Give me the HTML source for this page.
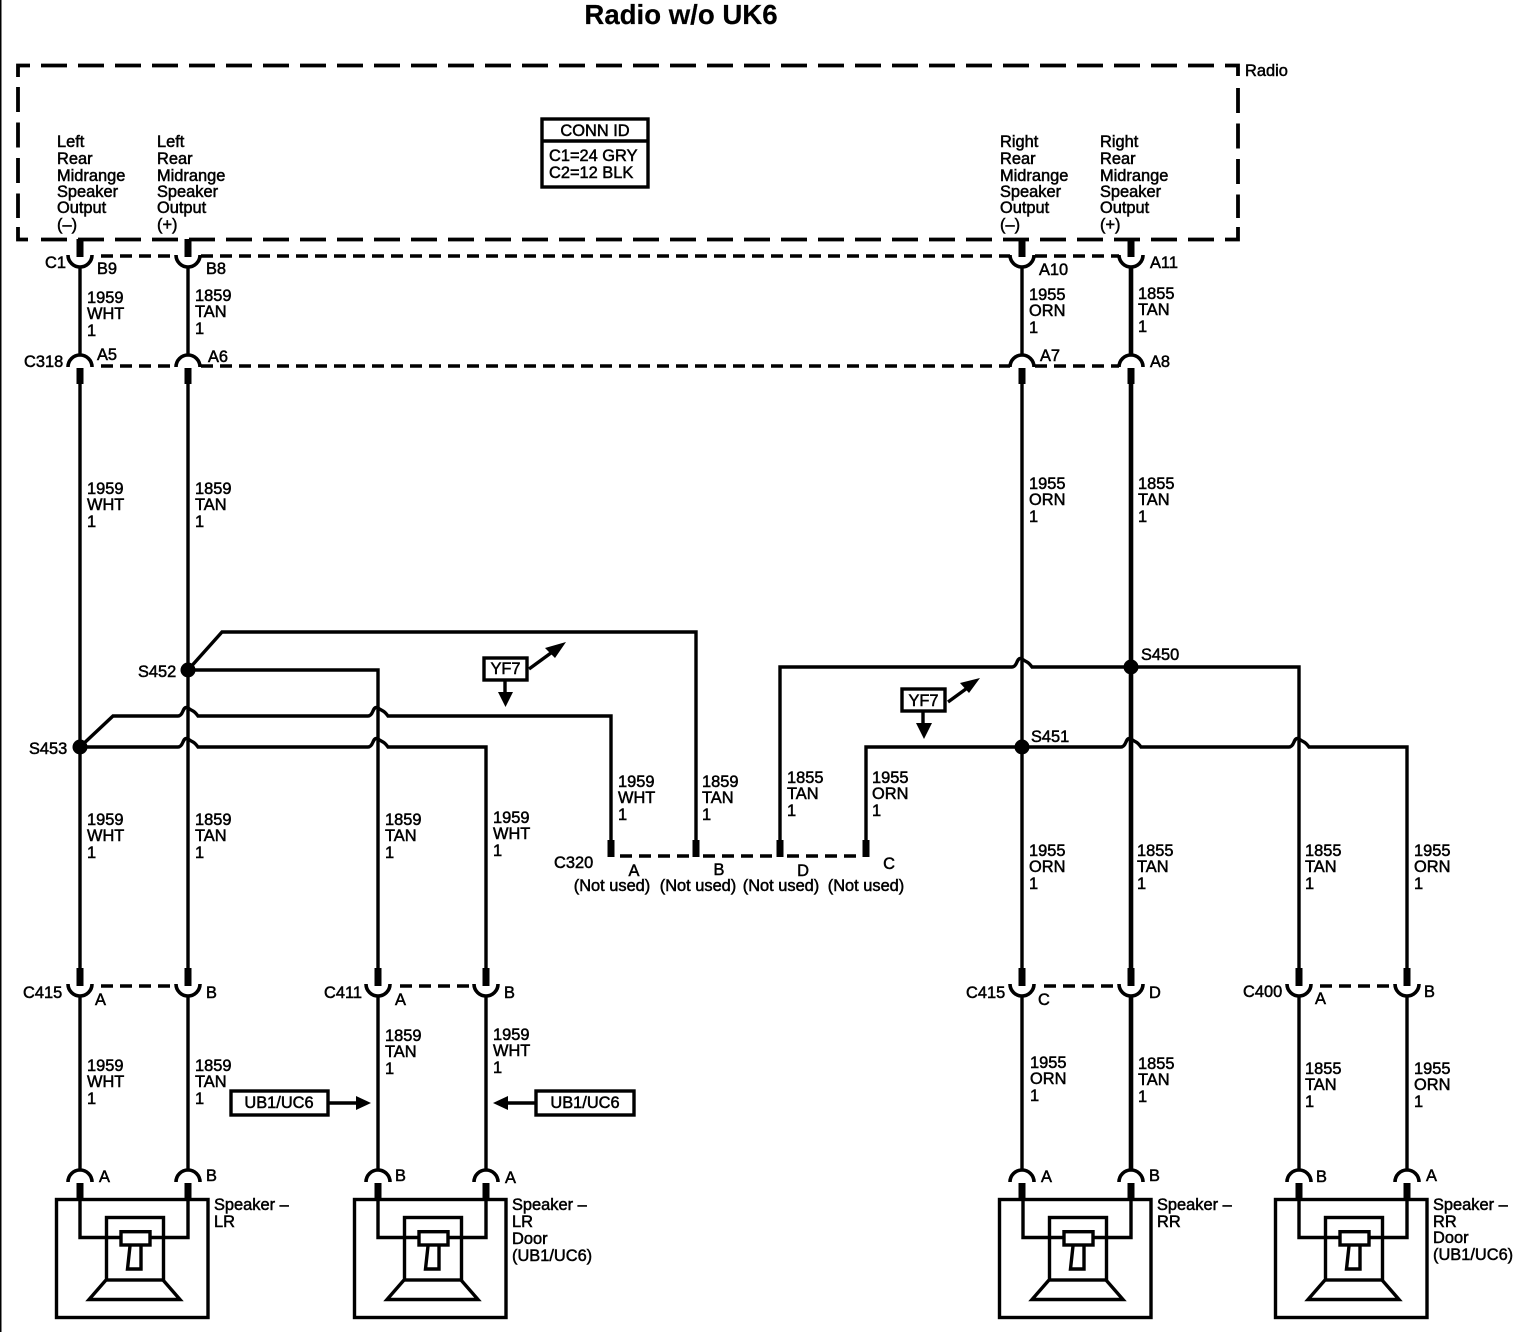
<!DOCTYPE html>
<html><head><meta charset="utf-8"><style>
html,body{margin:0;padding:0;background:#fff}
svg{display:block}
text{font-family:"Liberation Sans",sans-serif;font-size:16.4px;fill:#000;stroke:#000;stroke-width:.5}
.w{fill:none;stroke:#000;stroke-width:3.4}
.t{fill:none;stroke:#000;stroke-width:4.6}
.d{fill:none;stroke:#000;stroke-width:3.4;stroke-dasharray:12 7}
.s{fill:none;stroke:#000;stroke-width:3.6}
.b{fill:none;stroke:#000;stroke-width:3.8}
</style></head><body>
<svg width="1524" height="1344" viewBox="0 0 1524 1344" xmlns="http://www.w3.org/2000/svg">
<defs>
<g id="u"><path class="s" d="M-12 0A12 12 0 0 0 12 0"/><rect x="-3.500" y="-16" width="7" height="18"/></g>
<g id="a"><path class="s" d="M-12 12A12 12 0 0 1 12 12"/><rect x="-3.500" y="13" width="7" height="16"/></g>
<g id="spk">
<rect class="w" x="56.500" y="1199.500" width="151.500" height="118"/>
<rect class="w" x="106.500" y="1217.500" width="57" height="62.500"/>
<path class="w" d="M80 1199V1237.500H188V1199"/>
<rect x="121" y="1231.700" width="29" height="13.300" fill="#fff" stroke="#000" stroke-width="3.400"/>
<path class="w" d="M130 1246L127.500 1269H141V1246"/>
<path class="w" d="M106 1280L89 1299.500H180L163 1280"/>
</g>
</defs>
<rect width="1524" height="1344" fill="#fff"/>
<rect x="0" y="0" width="1.500" height="1332" fill="#000"/>

<text x="681" y="24" text-anchor="middle" style="font-size:27.6px;font-weight:700;stroke-width:.2">Radio w/o UK6</text>

<!-- radio box -->
<path class="b" d="M18 77V65.500H30M1225 65.500H1238V76M18 227V239.500H28M1225 239.500H1238V227"/>
<path class="b" d="M41 65.500H1214" stroke-dasharray="26 11"/>
<path class="b" d="M41 239.500H1214" stroke-dasharray="26 11"/>
<path class="b" d="M18 87V218" stroke-dasharray="25 10.500"/>
<path class="b" d="M1238 88V218" stroke-dasharray="25 10.500"/>
<text x="1245" y="76">Radio</text>
<rect x="542" y="119" width="106" height="68" fill="none" stroke="#000" stroke-width="3.400"/>
<path d="M542 141H648" class="s"/>
<text x="595" y="136" text-anchor="middle">CONN ID</text>
<text x="549" y="161">C1=24 GRY</text>
<text x="549" y="178">C2=12 BLK</text>

<!-- radio pin labels -->
<text x="57" y="147">Left</text><text x="57" y="164">Rear</text><text x="57" y="181">Midrange</text><text x="57" y="197">Speaker</text><text x="57" y="213">Output</text><text x="57" y="230">(–)</text>
<text x="157" y="147">Left</text><text x="157" y="164">Rear</text><text x="157" y="181">Midrange</text><text x="157" y="197">Speaker</text><text x="157" y="213">Output</text><text x="157" y="230">(+)</text>
<text x="1000" y="147">Right</text><text x="1000" y="164">Rear</text><text x="1000" y="181">Midrange</text><text x="1000" y="197">Speaker</text><text x="1000" y="213">Output</text><text x="1000" y="230">(–)</text>
<text x="1100" y="147">Right</text><text x="1100" y="164">Rear</text><text x="1100" y="181">Midrange</text><text x="1100" y="197">Speaker</text><text x="1100" y="213">Output</text><text x="1100" y="230">(+)</text>

<!-- dashed connector bars -->
<path class="d" d="M101 256H176M201 256H1010M1035 256H1119"/>
<path class="d" d="M101 366H176M201 366H1010M1035 366H1119"/>
<path class="d" d="M620 856H690M703 856H775M787 856H860"/>
<path class="d" d="M101 986H176"/>
<path class="d" d="M400 986H474"/>
<path class="d" d="M1044 986H1119"/>
<path class="d" d="M1320 986H1395"/>

<!-- main verticals -->
<path class="w" d="M80 266V356M80 380V970M80 996V1171"/>
<path class="w" d="M188 266V356M188 380V970M188 996V1171"/>
<path class="w" d="M1022 266V356M1022 380V970M1022 996V1171"/>
<path class="t" d="M1131 266V356M1131 380V970M1131 996V1171"/>

<!-- branches -->
<path class="w" d="M188 670L222 632H696V845"/>
<path class="w" d="M188 670H378V972" stroke-width="4"/>
<path class="w" d="M80 747L113 716H178Q181 716 183 711T188 708T193 711T198 716H368Q371 716 373 711T378 708T383 711T388 716H611V845"/>
<path class="w" d="M80 747H178Q181 747 183 742T188 739T193 742T198 747H368Q371 747 373 742T378 739T383 742T388 747H486V972"/>
<path class="w" d="M780 845V667H1012Q1015 667 1017 662T1022 659T1027 662T1032 667H1299V972"/>
<path class="w" d="M866 845V747H1121Q1124 747 1126 742T1131 739T1136 742T1141 747H1289Q1292 747 1294 742T1299 739T1304 742T1309 747H1407V972"/>
<path class="w" d="M378 996V1171M486 996V1171M1299 996V1171M1407 996V1171"/>

<circle cx="188" cy="670" r="7.500"/><circle cx="80" cy="747" r="7.500"/><circle cx="1131" cy="667" r="7.500"/><circle cx="1022" cy="747" r="7.500"/>

<!-- C1 -->
<use href="#u" x="80" y="255"/><use href="#u" x="188" y="255"/><use href="#u" x="1022" y="255"/><use href="#u" x="1131" y="255"/>
<!-- C318 -->
<use href="#a" x="80" y="355"/><use href="#a" x="188" y="355"/><use href="#a" x="1022" y="355"/><use href="#a" x="1131" y="355"/>
<!-- C320 stubs -->
<rect x="607.500" y="840" width="7" height="17"/><rect x="692.500" y="840" width="7" height="17"/><rect x="776.500" y="840" width="7" height="17"/><rect x="862.500" y="840" width="7" height="17"/>
<!-- lower connectors -->
<use href="#u" x="80" y="984"/><use href="#u" x="188" y="984"/><use href="#u" x="378" y="984"/><use href="#u" x="486" y="984"/>
<use href="#u" x="1022" y="984"/><use href="#u" x="1131" y="984"/><use href="#u" x="1299" y="984"/><use href="#u" x="1407" y="984"/>
<!-- speaker connectors -->
<use href="#a" x="80" y="1170"/><use href="#a" x="188" y="1170"/><use href="#a" x="378" y="1170"/><use href="#a" x="486" y="1170"/>
<use href="#a" x="1022" y="1170"/><use href="#a" x="1131" y="1170"/><use href="#a" x="1299" y="1170"/><use href="#a" x="1407" y="1170"/>

<!-- speakers -->
<use href="#spk"/>
<use href="#spk" x="298"/>
<use href="#spk" x="943"/>
<use href="#spk" x="1219"/>

<!-- YF7 -->
<rect x="484" y="658" width="43" height="22" fill="#fff" stroke="#000" stroke-width="3.400"/>
<text x="505.500" y="674" text-anchor="middle">YF7</text>
<path class="w" d="M505 680V696"/><path d="M498 692H513L505.500 707Z"/>
<path class="w" d="M529 669L555 650"/><path d="M566 642L545 648L555 658Z"/>
<rect x="902" y="689" width="43" height="22" fill="#fff" stroke="#000" stroke-width="3.400"/>
<text x="923.500" y="706" text-anchor="middle">YF7</text>
<path class="w" d="M923 711V727"/><path d="M916 723H932L924 739Z"/>
<path class="w" d="M948 702L970 686"/><path d="M980 678L960 683L969 693Z"/>

<!-- UB1/UC6 -->
<rect x="231" y="1091" width="97" height="24" fill="#fff" stroke="#000" stroke-width="3.400"/>
<text x="279" y="1108" text-anchor="middle">UB1/UC6</text>
<path class="w" d="M329 1103H358"/><path d="M356 1096L371 1103L356 1110Z"/>
<rect x="536" y="1091" width="98" height="24" fill="#fff" stroke="#000" stroke-width="3.400"/>
<text x="585" y="1108" text-anchor="middle">UB1/UC6</text>
<path class="w" d="M535 1103H505"/><path d="M508 1096L493 1103L508 1110Z"/>

<!-- connector labels -->
<text x="45" y="268">C1</text><text x="97" y="274">B9</text><text x="206" y="274">B8</text><text x="1039" y="275">A10</text><text x="1150" y="268">A11</text>
<text x="24" y="367">C318</text><text x="97" y="360">A5</text><text x="208" y="362">A6</text><text x="1040" y="361">A7</text><text x="1150" y="367">A8</text>
<text x="138" y="677">S452</text><text x="29" y="754">S453</text><text x="1141" y="660">S450</text><text x="1031" y="742">S451</text>
<text x="554" y="868">C320</text><text x="634" y="876" text-anchor="middle">A</text><text x="719" y="875" text-anchor="middle">B</text><text x="803" y="876" text-anchor="middle">D</text><text x="889" y="869" text-anchor="middle">C</text>
<text x="612" y="891" text-anchor="middle">(Not used)</text><text x="698" y="891" text-anchor="middle">(Not used)</text><text x="781" y="891" text-anchor="middle">(Not used)</text><text x="866" y="891" text-anchor="middle">(Not used)</text>
<text x="23" y="998">C415</text><text x="95" y="1005">A</text><text x="206" y="998">B</text>
<text x="324" y="998">C411</text><text x="395" y="1005">A</text><text x="504" y="998">B</text>
<text x="966" y="998">C415</text><text x="1038" y="1005">C</text><text x="1149" y="998">D</text>
<text x="1243" y="997">C400</text><text x="1315" y="1004">A</text><text x="1424" y="997">B</text>
<text x="99" y="1182">A</text><text x="206" y="1181">B</text><text x="395" y="1181">B</text><text x="505" y="1183">A</text>
<text x="1041" y="1182">A</text><text x="1149" y="1181">B</text><text x="1316" y="1182">B</text><text x="1426" y="1181">A</text>

<!-- speaker labels -->
<text x="214" y="1210">Speaker –</text><text x="214" y="1227">LR</text>
<text x="512" y="1210">Speaker –</text><text x="512" y="1227">LR</text><text x="512" y="1244">Door</text><text x="512" y="1261">(UB1/UC6)</text>
<text x="1157" y="1210">Speaker –</text><text x="1157" y="1227">RR</text>
<text x="1433" y="1210">Speaker –</text><text x="1433" y="1227">RR</text><text x="1433" y="1243">Door</text><text x="1433" y="1260">(UB1/UC6)</text>

<!-- wire labels -->
<text x="87" y="303">1959</text><text x="87" y="319">WHT</text><text x="87" y="336">1</text>
<text x="195" y="301">1859</text><text x="195" y="317">TAN</text><text x="195" y="334">1</text>
<text x="1029" y="300">1955</text><text x="1029" y="316">ORN</text><text x="1029" y="333">1</text>
<text x="1138" y="299">1855</text><text x="1138" y="315">TAN</text><text x="1138" y="332">1</text>

<text x="87" y="494">1959</text><text x="87" y="510">WHT</text><text x="87" y="527">1</text>
<text x="195" y="494">1859</text><text x="195" y="510">TAN</text><text x="195" y="527">1</text>
<text x="1029" y="489">1955</text><text x="1029" y="505">ORN</text><text x="1029" y="522">1</text>
<text x="1138" y="489">1855</text><text x="1138" y="505">TAN</text><text x="1138" y="522">1</text>

<text x="87" y="825">1959</text><text x="87" y="841">WHT</text><text x="87" y="858">1</text>
<text x="195" y="825">1859</text><text x="195" y="841">TAN</text><text x="195" y="858">1</text>
<text x="385" y="825">1859</text><text x="385" y="841">TAN</text><text x="385" y="858">1</text>
<text x="493" y="823">1959</text><text x="493" y="839">WHT</text><text x="493" y="856">1</text>

<text x="618" y="787">1959</text><text x="618" y="803">WHT</text><text x="618" y="820">1</text>
<text x="702" y="787">1859</text><text x="702" y="803">TAN</text><text x="702" y="820">1</text>
<text x="787" y="783">1855</text><text x="787" y="799">TAN</text><text x="787" y="816">1</text>
<text x="872" y="783">1955</text><text x="872" y="799">ORN</text><text x="872" y="816">1</text>

<text x="1029" y="856">1955</text><text x="1029" y="872">ORN</text><text x="1029" y="889">1</text>
<text x="1137" y="856">1855</text><text x="1137" y="872">TAN</text><text x="1137" y="889">1</text>
<text x="1305" y="856">1855</text><text x="1305" y="872">TAN</text><text x="1305" y="889">1</text>
<text x="1414" y="856">1955</text><text x="1414" y="872">ORN</text><text x="1414" y="889">1</text>

<text x="87" y="1071">1959</text><text x="87" y="1087">WHT</text><text x="87" y="1104">1</text>
<text x="195" y="1071">1859</text><text x="195" y="1087">TAN</text><text x="195" y="1104">1</text>
<text x="385" y="1041">1859</text><text x="385" y="1057">TAN</text><text x="385" y="1074">1</text>
<text x="493" y="1040">1959</text><text x="493" y="1056">WHT</text><text x="493" y="1073">1</text>
<text x="1030" y="1068">1955</text><text x="1030" y="1084">ORN</text><text x="1030" y="1101">1</text>
<text x="1138" y="1069">1855</text><text x="1138" y="1085">TAN</text><text x="1138" y="1102">1</text>
<text x="1305" y="1074">1855</text><text x="1305" y="1090">TAN</text><text x="1305" y="1107">1</text>
<text x="1414" y="1074">1955</text><text x="1414" y="1090">ORN</text><text x="1414" y="1107">1</text>
</svg>
</body></html>
